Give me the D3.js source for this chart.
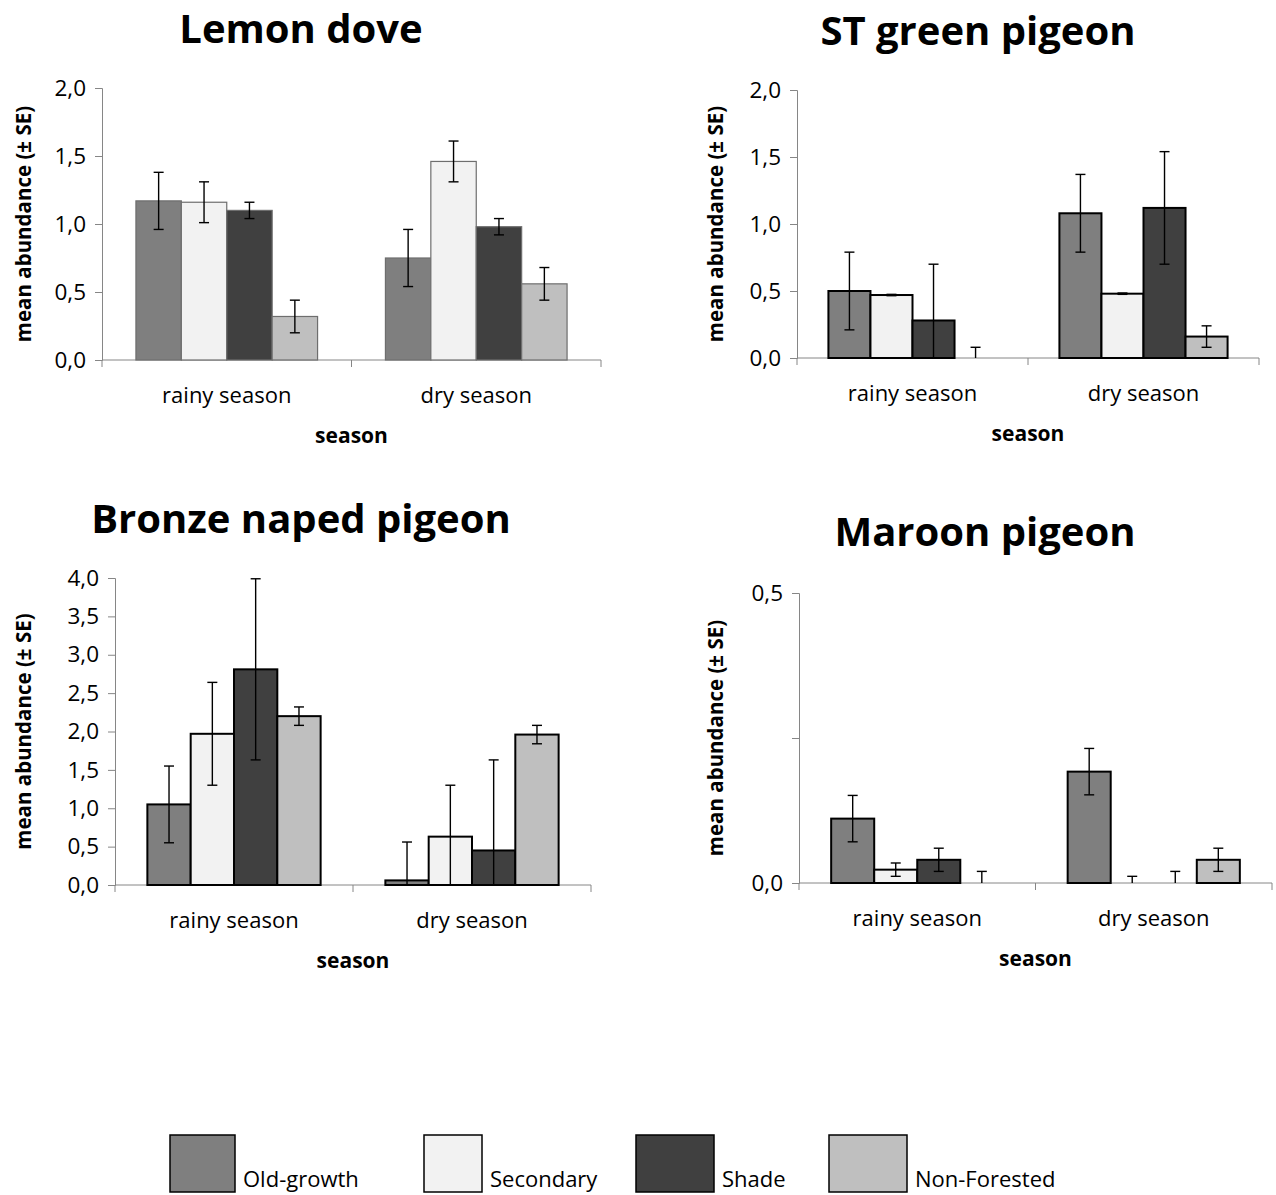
<!DOCTYPE html>
<html lang="en">
<head>
    <meta charset="UTF-8">
    <title>Pigeon abundance by season</title>
    <script src="https://d3js.org/d3.v7.min.js"></script>
    <style>
        body { margin: 0; background: #fff; }
        text { font-family: "Open Sans", sans-serif; fill: #000; }
    </style>
</head>
<body>
<div id="chart-container"></div>

<script>
    // Categories
    const seasons = ["rainy season", "dry season"];
    const habitats = ["Old-growth", "Secondary", "Shade", "Non-Forested"];

    // Lemon dove
    const lemonRainy = [1.17, 1.16, 1.10, 0.32];
    const lemonDry = [0.75, 1.46, 0.98, 0.56];
    const lemonRainySE = [0.21, 0.15, 0.06, 0.12];
    const lemonDrySE = [0.21, 0.15, 0.06, 0.12];
    const lemonTicks = [0, 0.5, 1.0, 1.5, 2.0];

    // ST green pigeon
    const greenRainy = [0.50, 0.47, 0.28, 0];
    const greenDry = [1.08, 0.48, 1.12, 0.16];
    const greenRainySE = [0.29, 0.005, 0.42, 0.08];
    const greenDrySE = [0.29, 0.005, 0.42, 0.08];
    const greenTicks = [0, 0.5, 1.0, 1.5, 2.0];

    // Bronze naped pigeon
    const bronzeRainy = [1.05, 1.97, 2.81, 2.20];
    const bronzeDry = [0.06, 0.63, 0.45, 1.96];
    const bronzeRainySE = [0.50, 0.67, 1.18, 0.12];
    const bronzeDrySE = [0.50, 0.67, 1.18, 0.12];
    const bronzeTicks = [0, 0.5, 1.0, 1.5, 2.0, 2.5, 3.0, 3.5, 4.0];

    // Maroon pigeon
    const maroonRainy = [0.111, 0.023, 0.040, 0];
    const maroonDry = [0.192, 0, 0, 0.040];
    const maroonRainySE = [0.04, 0.0115, 0.02, 0.02];
    const maroonDrySE = [0.04, 0.0115, 0.02, 0.02];
    const maroonTicks = [0, 0.25, 0.5];
    const maroonLabelled = [0, 0.5];

    const habitatColors = ["#7f7f7f", "#f2f2f2", "#404040", "#bfbfbf"];

    const W = 1276, H = 1195;
    const svg = d3.select("#chart-container")
        .append("svg")
        .attr("width", W)
        .attr("height", H);

    const fmt = v => d3.format(".1f")(v).replace(".", ",");

    function drawPanel(p) {
        const g = svg.append("g");

        const x0 = d3.scaleBand().domain(seasons).range([p.left, p.right]);
        const bw = x0.bandwidth();
        const x1 = d3.scaleBand().domain(habitats)
            .range([bw * 0.136, bw * 0.864]);
        const y = d3.scaleLinear().domain(p.domain).range([p.bottom, p.top]);

        // y axis
        const yAxis = g.append("g")
            .attr("transform", `translate(${p.left},0)`)
            .call(d3.axisLeft(y).tickValues(p.ticks).tickSize(7).tickPadding(9)
                .tickFormat(d => (p.labelled ? (p.labelled.includes(d) ? fmt(d) : "") : fmt(d))));
        yAxis.select(".domain").attr("stroke", "#868686");
        yAxis.selectAll(".tick line").attr("stroke", "#868686");
        yAxis.selectAll(".tick text").style("font-size", "22.5px").attr("fill", "#000");

        // x axis line with boundary ticks
        g.append("line")
            .attr("x1", p.left).attr("x2", p.right)
            .attr("y1", p.bottom).attr("y2", p.bottom)
            .attr("stroke", "#868686");
        const bounds = [p.left, x0(seasons[1]), p.right];
        g.selectAll(".xtick").data(bounds).enter().append("line")
            .attr("x1", d => d).attr("x2", d => d)
            .attr("y1", p.bottom).attr("y2", p.bottom + 7)
            .attr("stroke", "#868686");

        g.selectAll(".xlab").data(seasons).enter().append("text")
            .attr("x", d => x0(d) + bw / 2)
            .attr("y", p.bottom + 43)
            .attr("text-anchor", "middle")
            .style("font-size", "22px")
            .text(d => d);

        // bars
        const rows = [];
        seasons.forEach((s, i) => {
            habitats.forEach((h, j) => {
                rows.push({ s, h, j, v: p.values[i][j], e: p.errors[i][j] });
            });
        });

        g.selectAll(".bar").data(rows.filter(d => d.v > 0)).enter().append("rect")
            .attr("x", d => x0(d.s) + x1(d.h))
            .attr("y", d => y(d.v))
            .attr("width", x1.bandwidth())
            .attr("height", d => p.bottom - y(d.v))
            .attr("fill", d => habitatColors[d.j])
            .attr("stroke", p.barStroke)
            .attr("stroke-width", p.barStrokeWidth);

        // error bars (lower end clipped at the axis, like the original)
        const cap = 5;
        const eb = g.selectAll(".err").data(rows).enter().append("g")
            .attr("transform", d => `translate(${x0(d.s) + x1(d.h) + x1.bandwidth() / 2},0)`);
        eb.append("line")
            .attr("y1", d => y(Math.max(0, d.v - d.e)))
            .attr("y2", d => y(d.v + d.e))
            .attr("stroke", "#000").attr("stroke-width", 1.4);
        eb.append("line")
            .attr("x1", -cap).attr("x2", cap)
            .attr("y1", d => y(d.v + d.e)).attr("y2", d => y(d.v + d.e))
            .attr("stroke", "#000").attr("stroke-width", 1.4);
        eb.filter(d => d.v - d.e >= 0).append("line")
            .attr("x1", -cap).attr("x2", cap)
            .attr("y1", d => y(d.v - d.e)).attr("y2", d => y(d.v - d.e))
            .attr("stroke", "#000").attr("stroke-width", 1.4);

        // titles
        g.append("text")
            .attr("x", p.titleX).attr("y", p.titleY)
            .attr("text-anchor", "middle")
            .style("font-size", "40px").style("font-weight", "bold")
            .text(p.title);

        g.append("text")
            .attr("transform", `translate(${p.yTitleX},${(p.top + p.bottom) / 2}) rotate(-90)`)
            .attr("text-anchor", "middle")
            .attr("dy", "0.35em")
            .style("font-size", "20.5px").style("font-weight", "bold")
            .text("mean abundance (± SE)");

        g.append("text")
            .attr("x", (p.left + p.right) / 2)
            .attr("y", p.bottom + 83)
            .attr("text-anchor", "middle")
            .style("font-size", "21px").style("font-weight", "bold")
            .text("season");
    }

    drawPanel({
        title: "Lemon dove", titleX: 301, titleY: 43,
        left: 102, right: 601, top: 88, bottom: 360, yTitleX: 24,
        domain: [0, 2], ticks: lemonTicks,
        values: [lemonRainy, lemonDry], errors: [lemonRainySE, lemonDrySE],
        barStroke: "#6e6e6e", barStrokeWidth: 1.2
    });
    drawPanel({
        title: "ST green pigeon", titleX: 978, titleY: 45,
        left: 797, right: 1259, top: 90, bottom: 358, yTitleX: 716,
        domain: [0, 2], ticks: greenTicks,
        values: [greenRainy, greenDry], errors: [greenRainySE, greenDrySE],
        barStroke: "#000", barStrokeWidth: 2
    });
    drawPanel({
        title: "Bronze naped pigeon", titleX: 301, titleY: 533,
        left: 115, right: 591, top: 578, bottom: 885, yTitleX: 24,
        domain: [0, 4], ticks: bronzeTicks,
        values: [bronzeRainy, bronzeDry], errors: [bronzeRainySE, bronzeDrySE],
        barStroke: "#000", barStrokeWidth: 2
    });
    drawPanel({
        title: "Maroon pigeon", titleX: 985, titleY: 546,
        left: 799, right: 1272, top: 593, bottom: 883, yTitleX: 716,
        domain: [0, 0.5], ticks: maroonTicks, labelled: maroonLabelled,
        values: [maroonRainy, maroonDry], errors: [maroonRainySE, maroonDrySE],
        barStroke: "#000", barStrokeWidth: 2
    });

    // legend
    const legendBoxX = [170, 424, 636, 829];
    const legendBoxW = [65, 58, 78, 78];
    const legend = svg.append("g");
    habitats.forEach((h, i) => {
        legend.append("rect")
            .attr("x", legendBoxX[i]).attr("y", 1135)
            .attr("width", legendBoxW[i]).attr("height", 57)
            .attr("fill", habitatColors[i])
            .attr("stroke", "#000").attr("stroke-width", 1.5);
        legend.append("text")
            .attr("x", legendBoxX[i] + legendBoxW[i] + 8)
            .attr("y", 1187)
            .style("font-size", "22px")
            .text(h);
    });
</script>
</body>
</html>
